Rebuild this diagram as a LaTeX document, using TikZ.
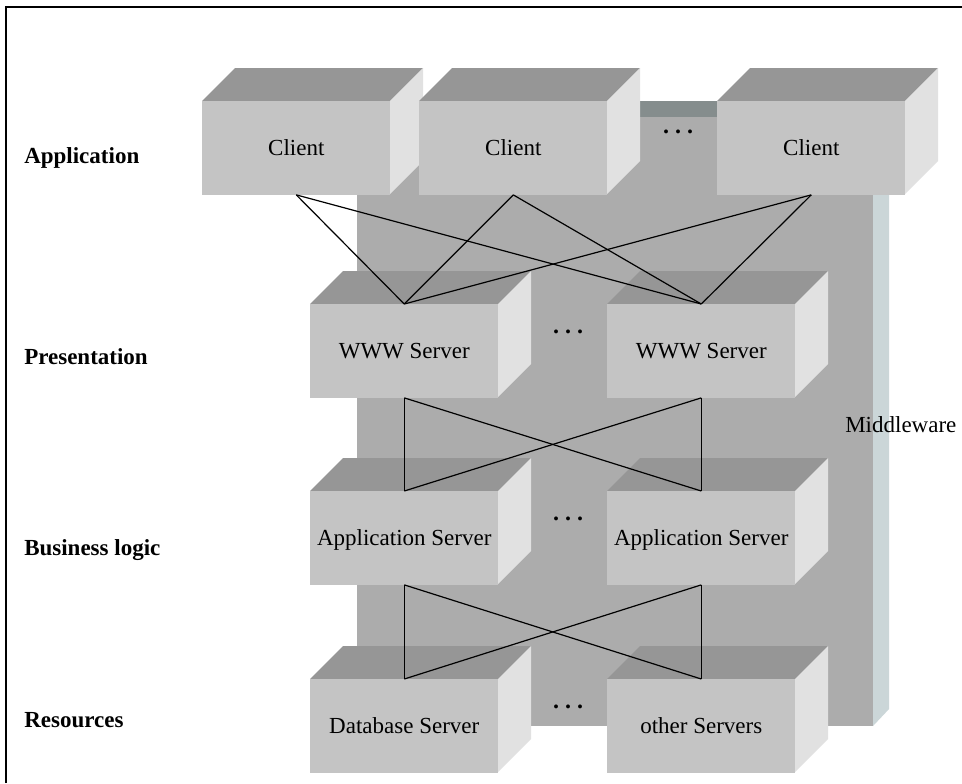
\documentclass[tikz,border=0pt]{standalone}
\usepackage{fontspec}
\setmainfont{Liberation Serif}
\definecolor{frontc}{HTML}{C4C4C4}
\definecolor{topc}{HTML}{969696}
\definecolor{sidec}{HTML}{E1E1E1}
\definecolor{slabfront}{HTML}{ACACAC}
\definecolor{slabtop}{HTML}{858D8D}
\definecolor{slabside}{HTML}{CBD6D8}
\tikzset{
  box/.style={fill=frontc, minimum width=141pt, minimum height=70pt, inner sep=0pt,
    text height=1.15em, text depth=0pt, font=\fontsize{17.25}{20}\selectfont},
  lay/.style={anchor=base west, inner sep=0pt, font=\fontsize{17.25}{20}\selectfont\bfseries},
  plain/.style={anchor=base west, inner sep=0pt, font=\fontsize{17.25}{20}\selectfont},
  dotsn/.style={anchor=base, inner sep=0pt, font=\fontsize{18}{20}\selectfont\bfseries},
  link/.style={draw=black, line width=0.9pt},
  frame/.style={draw=black, line width=1.1pt},
}
\newcommand\cubebox[4]{%
  \fill[topc] (#2,#3) -- ++(33,-33) -- ++(188,0) -- ++(-33,33) -- cycle;
  \fill[sidec] (#2+188,#3) -- ++(33,-33) -- ++(0,93) -- ++(-33,33) -- cycle;
  \node[box, anchor=north west] (#1) at (#2,#3) {#4};
}
\begin{document}
\begin{tikzpicture}[x=0.75pt, y=-0.75pt]
\useasboundingbox (0,0) rectangle (962,783);
\fill[white] (0,0) rectangle (962,783);
% frame
\draw[frame] (6,783) -- (6,7) -- (962,7);
% middleware slab
\fill[slabtop] (357,117) -- (373,101) -- (889,101) -- (873,117) -- cycle;
\fill[slabside] (873,117) -- (889,101) -- (889,709) -- (873,726) -- cycle;
\node[fill=slabfront, inner sep=0pt, minimum width=387pt, minimum height=456.75pt, anchor=north west] (mw) at (357,117) {};
\node[plain] (mwl) at (845,432) {Middleware};
% clients
\cubebox{c1}{202}{101}{Client}
\cubebox{c2}{419}{101}{Client}
\cubebox{c3}{717}{101}{Client}
% www
\cubebox{w1}{310}{304}{WWW Server}
\cubebox{w2}{607}{304}{WWW Server}
% app
\cubebox{a1}{310}{491}{Application Server}
\cubebox{a2}{607}{491}{Application Server}
% resources
\cubebox{d1}{310}{679}{Database Server}
\cubebox{d2}{607}{679}{other Servers}
% ellipses
\node[dotsn] (e1) at (678,133) {.\ .\ .};
\node[dotsn] (e2) at (568,333) {.\ .\ .};
\node[dotsn] (e3) at (568,520) {.\ .\ .};
\node[dotsn] (e4) at (568,708) {.\ .\ .};
% layer labels
\node[lay] (l1) at (24,163) {Application};
\node[lay] (l2) at (24,364) {Presentation};
\node[lay] (l3) at (24,555) {Business logic};
\node[lay] (l4) at (24,727) {Resources};
% connectors
\draw[link] (c1.south) -- (w1.north);
\draw[link] (c1.south) -- (w2.north);
\draw[link] (c2.south) -- (w1.north);
\draw[link] (c2.south) -- (w2.north);
\draw[link] (c3.south) -- (w1.north);
\draw[link] (c3.south) -- (w2.north);
\draw[link] (w1.south) -- (a1.north);
\draw[link] (w2.south) -- (a2.north);
\draw[link] (w1.south) -- (a2.north);
\draw[link] (w2.south) -- (a1.north);
\draw[link] (a1.south) -- (d1.north);
\draw[link] (a2.south) -- (d2.north);
\draw[link] (a1.south) -- (d2.north);
\draw[link] (a2.south) -- (d1.north);
\end{tikzpicture}
\end{document}
